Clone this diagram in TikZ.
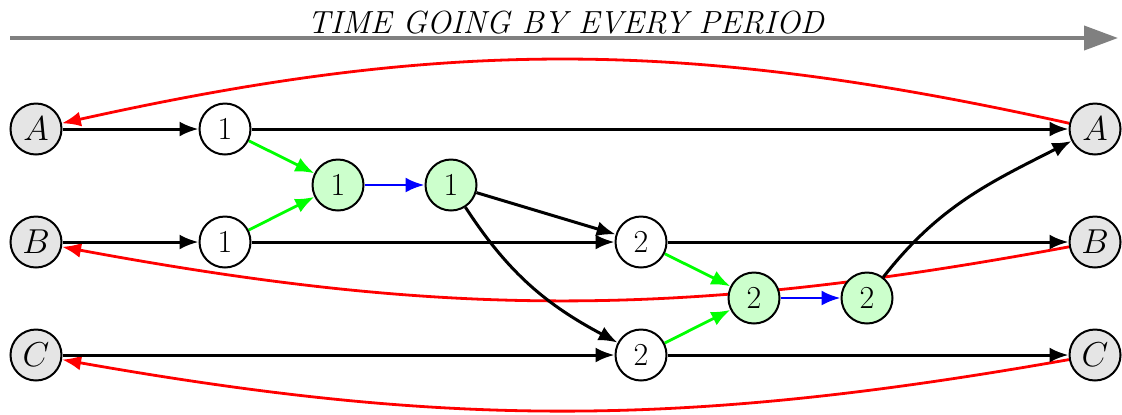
\documentclass[tikz,border=0pt]{standalone}
\usetikzlibrary{arrows.meta}
\pgfdeclarelayer{bg}
\pgfsetlayers{bg,main}
\begin{document}
\begin{tikzpicture}[x=0.5pt,y=-0.5pt,
  st/.style={circle,draw,line width=1pt,minimum size=25.5pt,inner sep=0pt,font=\fontsize{16}{18}\selectfont},
  endst/.style={st,fill=gray!20},
  mid/.style={st,fill=white},
  grn/.style={st,fill=green!20},
  tip/.style={-{Latex[length=9.5pt,width=7.5pt]}},
  blk/.style={tip,line width=1.5pt},
  ga/.style={tip,line width=1.4pt,green},
  ba/.style={tip,line width=1.4pt,blue},
  ra/.style={tip,line width=1.4pt,red}]
\useasboundingbox (0,0) rectangle (1122,414);
% title
\coordinate (ts) at (10,38);
\coordinate (te) at (1118,38);
\draw[gray,line width=2pt,-{Triangle[length=17pt,width=12pt]}] (ts) -- (te);
\node[anchor=base,inner sep=0pt,font=\fontsize{16}{19}\selectfont] (title) at (566,33) {\textit{TIME GOING BY EVERY PERIOD}};
% nodes
\node[endst] (AL) at (36,129) {$A$};
\node[endst] (BL) at (36,242) {$B$};
\node[endst] (CL) at (36,355) {$C$};
\node[endst] (AR) at (1095,129) {$A$};
\node[endst] (BR) at (1095,242) {$B$};
\node[endst] (CR) at (1095,355) {$C$};
\node[mid] (a1) at (225,129) {1};
\node[mid] (b1) at (225,242) {1};
\node[grn] (g1) at (338,185) {1};
\node[grn] (h1) at (451,185) {1};
\node[mid] (b2) at (641,242) {2};
\node[mid] (c2) at (641,355) {2};
\node[grn] (g2) at (754,298) {2};
\node[grn] (h2) at (867,298) {2};
\begin{pgfonlayer}{bg}
% red return arrows
\draw[ra] (AR) to[bend right=12.5] (AL);
\draw[ra] (BR) to[bend left=10.5] (BL);
\draw[ra] (CR) to[bend left=10] (CL);
% black
\draw[blk] (AL) -- (a1);
\draw[blk] (a1) -- (AR);
\draw[blk] (BL) -- (b1);
\draw[blk] (b1) -- (b2);
\draw[blk] (b2) -- (BR);
\draw[blk] (CL) -- (c2);
\draw[blk] (c2) -- (CR);
\draw[blk] (h1) -- (b2);
\draw[blk] (h1) to[out=-57,in=152] (c2);
\draw[blk] (h2) to[out=52,in=-153] (AR);
% green
\draw[ga] (a1) -- (g1);
\draw[ga] (b1) -- (g1);
\draw[ga] (b2) -- (g2);
\draw[ga] (c2) -- (g2);
% blue
\draw[ba] (g1) -- (h1);
\draw[ba] (g2) -- (h2);
\end{pgfonlayer}
\end{tikzpicture}
\end{document}
